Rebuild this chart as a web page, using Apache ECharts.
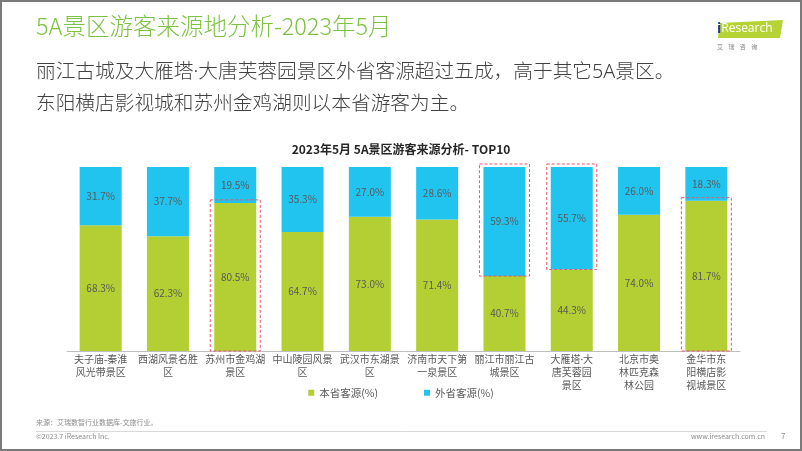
<!DOCTYPE html>
<html>
<head>
<meta charset="utf-8">
<script src="https://cdn.jsdelivr.net/npm/echarts@6/dist/echarts.min.js"></script>
<style>
html,body{margin:0;padding:0;background:#fff;}
#c{width:802px;height:451px;}
</style>
</head>
<body>
<div id="c"></div>
<script>
var categories = ['夫子庙-秦淮\n风光带景区','西湖风景名胜\n区','苏州市金鸡湖\n景区','中山陵园风景\n区','武汉市东湖景\n区','济南市天下第\n一泉景区','丽江市丽江古\n城景区','大雁塔·大\n唐芙蓉园\n景区','北京市奥\n林匹克森\n林公园','金华市东\n阳横店影\n视城景区'];
var localShare = [68.3, 62.3, 80.5, 64.7, 73.0, 71.4, 40.7, 44.3, 74.0, 81.7];
var outsideShare = [31.7, 37.7, 19.5, 35.3, 27.0, 28.6, 59.3, 55.7, 26.0, 18.3];
var seriesNames = ['本省客源(%)', '外省客源(%)'];
// highlighted segments (dashed red boxes): category index and which part
var highlightIdx = [2, 6, 7, 9];
var highlightPart = ['local', 'outside', 'outside', 'local'];

var FONT = '"Noto Sans CJK SC","Noto Sans",sans-serif';
var MIXFONT = '"Noto Sans","Noto Sans CJK SC",sans-serif';
var chart = echarts.init(document.getElementById('c'), null, {renderer:'canvas'});

var boxData = highlightIdx.map(function(idx, i){
  var lo = localShare[idx];
  return highlightPart[i] === 'local' ? [idx, 0, lo] : [idx, lo, lo + outsideShare[idx]];
});

var lbl = {show:true, position:'inside', color:'#595959', fontSize:10, fontFamily:FONT,
  formatter:function(p){return p.value.toFixed(1)+'%';}};

chart.setOption({
  animation:false,
  textStyle:{fontFamily:FONT},
  title:{text:'2023年5月 5A景区游客来源分析- TOP10', left:'center', top:138,
    textStyle:{fontSize:12, fontWeight:'bold', color:'#262626', fontFamily:FONT}},
  legend:{data:seriesNames, bottom:48, left:'center', itemWidth:6, itemHeight:6, itemGap:46,
    icon:'rect', textStyle:{fontSize:10.5, color:'#595959', fontFamily:FONT}},
  grid:{left:67, right:62, top:167, bottom:100},
  xAxis:{type:'category', data:categories,
    axisLine:{lineStyle:{color:'#bfbfbf'}}, axisTick:{show:false},
    axisLabel:{interval:0, color:'#595959', fontSize:10, lineHeight:13, margin:3, fontFamily:MIXFONT}},
  yAxis:{type:'value', min:0, max:100, show:false},
  series:[
    {name:seriesNames[0], type:'bar', stack:'s', data:localShare, barWidth:42,
      itemStyle:{color:'#b3cf33'}, label:lbl},
    {name:seriesNames[1], type:'bar', stack:'s', data:outsideShare, barWidth:42,
      itemStyle:{color:'#21c4ef'}, label:lbl},
    {type:'custom', data:boxData, silent:true, z:5,
      renderItem:function(params, api){
        var a = api.coord([api.value(0), api.value(1)]);
        var b = api.coord([api.value(0), api.value(2)]);
        var half = 25;
        var top = Math.min(a[1], b[1]) - 3;
        var bot = Math.max(a[1], b[1]);
        return {type:'rect', shape:{x:a[0]-half, y:top, width:half*2, height:bot-top},
          style:{fill:null, stroke:'#e8576b', lineWidth:1, lineDash:[3,2]}};
      }}
  ],
  graphic:[
    {type:'rect', shape:{x:1, y:1, width:800, height:449}, style:{fill:null, stroke:'#7a7a7a', lineWidth:2}, silent:true},
    {type:'text', left:36, top:14, style:{text:'5A景区游客来源地分析-2023年5月', fontSize:23.5, fontWeight:300, fill:'#7dc242', fontFamily:FONT}},
    {type:'text', left:36, top:63, style:{text:'丽江古城及大雁塔·大唐芙蓉园景区外省客源超过五成，高于其它5A景区。', fontSize:19.7, fontWeight:300, fill:'#404040', fontFamily:MIXFONT}},
    {type:'text', left:36, top:93, style:{text:'东阳横店影视城和苏州金鸡湖则以本省游客为主。', fontSize:19.7, fontWeight:300, fill:'#404040', fontFamily:FONT}},
    {type:'polygon', shape:{points:[[720,23],[783,20],[780,38],[718,38]]}, style:{fill:'#b5d334'}},
    {type:'text', left:717, top:22, style:{rich:{a:{fontSize:14, fill:'#1f3a93', fontWeight:'bold', fontFamily:'"Open Sans",sans-serif'}, b:{fontSize:12, fill:'#fff', fontFamily:'"Open Sans",sans-serif'}}, text:'{a|i}{b|Research}'}},
    {type:'text', left:717, top:44, style:{text:'艾    瑞    咨    询', fontSize:6, fill:'#7f7f7f', fontFamily:FONT}},
    {type:'text', left:36, top:419, style:{text:'来源：艾瑞数智行业数据库-文旅行业。', fontSize:7, fill:'#8c8c8c', fontFamily:FONT}},
    {type:'line', shape:{x1:36, y1:431.5, x2:767, y2:431.5}, style:{stroke:'#d9d9d9', lineWidth:1}},
    {type:'text', left:36, top:433, style:{text:'©2023.7 iResearch Inc.', fontSize:7, fill:'#8c8c8c', fontFamily:FONT}},
    {type:'text', right:37, top:433, style:{text:'www.iresearch.com.cn', fontSize:7, fill:'#8c8c8c', fontFamily:FONT}},
    {type:'text', left:781, top:432, style:{text:'7', fontSize:8, fill:'#8c8c8c', fontFamily:FONT}}
  ]
});
</script>
</body>
</html>
